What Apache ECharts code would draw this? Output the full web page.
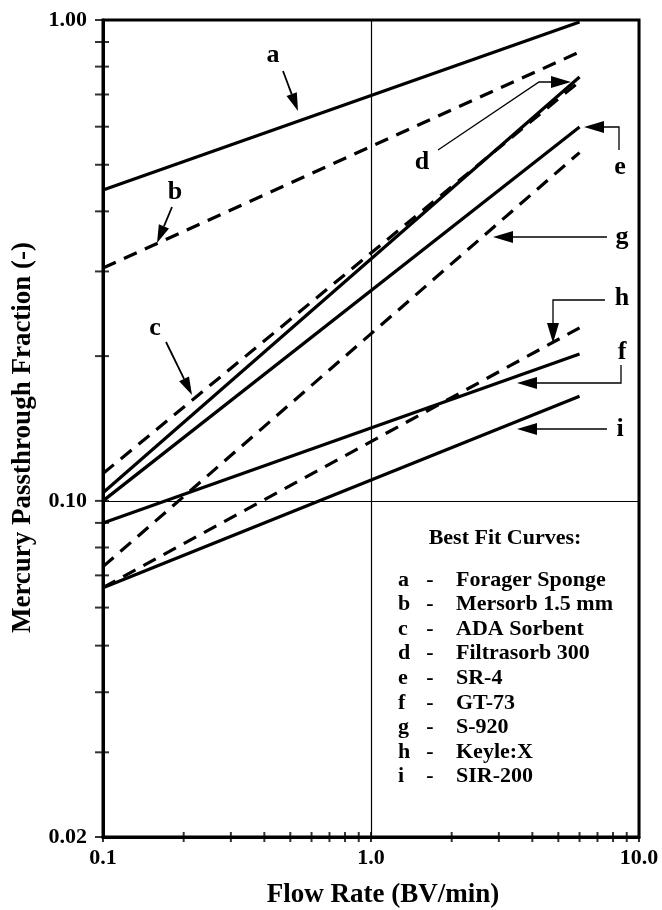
<!DOCTYPE html>
<html>
<head>
<meta charset="utf-8">
<script src="https://cdn.jsdelivr.net/npm/echarts@6/dist/echarts.min.js"></script>
<style>
  html, body { margin: 0; padding: 0; background: #fff; }
  #chart { width: 662px; height: 910px; }
</style>
</head>
<body>
<div id="chart"></div>
<script>
// best fit curves, passthrough fraction at the two ends of the fitted range
const flowRate = [0.1, 6.0];
const curveA = [0.443, 0.990];
const curveB = [0.305, 0.858];
const curveC = [0.114, 0.745];
const curveD = [0.104, 0.761];
const curveE = [0.100, 0.599];
const curveF = [0.090, 0.202];
const curveG = [0.073, 0.530];
const curveH = [0.066, 0.229];
const curveI = [0.066, 0.165];

const curveKeys = ['a', 'b', 'c', 'd', 'e', 'f', 'g', 'h', 'i'];
const curveNames = ['Forager Sponge', 'Mersorb 1.5 mm', 'ADA Sorbent', 'Filtrasorb 300',
  'SR-4', 'GT-73', 'S-920', 'Keyle:X', 'SIR-200'];
const dashedKeys = ['b', 'c', 'g', 'h'];

const xLabelValues = [0.1, 1, 10];
const yLabelValues = [0.02, 0.1, 1];
const xTickValues = [0.1, 0.2, 0.3, 0.4, 0.5, 0.6, 0.7, 0.8, 0.9, 1, 2, 3, 4, 5, 6, 7, 8, 9, 10];
const yTickValues = [0.02, 0.03, 0.04, 0.05, 0.06, 0.07, 0.08, 0.09, 0.1,
  0.2, 0.3, 0.4, 0.5, 0.6, 0.7, 0.8, 0.9, 1];

const curves = [curveA, curveB, curveC, curveD, curveE, curveF, curveG, curveH, curveI];
const FONT = "'Liberation Serif', 'Times New Roman', serif";

const chart = echarts.init(document.getElementById('chart'));

const lineSeries = curveKeys.map((k, i) => ({
  name: k,
  type: 'line',
  data: flowRate.map((x, j) => [x, curves[i][j]]),
  symbol: 'none',
  silent: true,
  lineStyle: {
    color: '#000',
    width: 3.2,
    type: dashedKeys.includes(k) ? [14, 9] : 'solid',
    cap: 'butt'
  },
  z: dashedKeys.includes(k) ? 2 : 3
}));

const tickSeries = [
  {
    type: 'scatter',
    data: xTickValues.map(v => [v, yLabelValues[0]]),
    symbol: 'rect',
    symbolSize: [2, 10],
    itemStyle: { color: '#000' },
    clip: false,
    silent: true
  },
  {
    type: 'scatter',
    data: yTickValues.map(v => [xLabelValues[0], v]),
    symbol: 'rect',
    symbolSize: [14, 2],
    symbolOffset: [-1, 0],
    itemStyle: { color: '#000' },
    clip: false,
    silent: true
  }
];

const option = {
  animation: false,
  grid: {
    left: 103, right: 23, top: 20, bottom: 73,
    outerBoundsMode: 'none',
    containLabel: false,
    show: true, borderColor: '#000', borderWidth: 3
  },
  xAxis: {
    type: 'log',
    min: 0.1, max: 10,
    name: 'Flow Rate (BV/min)',
    nameLocation: 'middle',
    nameGap: 45,
    nameTextStyle: { fontFamily: FONT, fontWeight: 'bold', fontSize: 27, color: '#000', padding: [0, 0, 0, 24] },
    axisLine: { lineStyle: { color: '#000', width: 3 } },
    axisTick: { show: false },
    axisLabel: {
      customValues: xLabelValues,
      formatter: v => Number(v).toFixed(1),
      fontFamily: FONT, fontWeight: 'bold', fontSize: 22, color: '#000', margin: 10
    },
    splitLine: { show: true, lineStyle: { color: '#000', width: 1.2 } }
  },
  yAxis: {
    type: 'log',
    min: 0.02, max: 1,
    name: 'Mercury Passthrough Fraction (-)',
    nameLocation: 'middle',
    nameGap: 66,
    nameTextStyle: { fontFamily: FONT, fontWeight: 'bold', fontSize: 27, color: '#000', padding: [0, 18, 0, 0] },
    axisLine: { lineStyle: { color: '#000', width: 3 } },
    axisTick: { show: false },
    axisLabel: {
      customValues: yLabelValues,
      formatter: v => Number(v).toFixed(2),
      fontFamily: FONT, fontWeight: 'bold', fontSize: 22, color: '#000', margin: 16
    },
    splitLine: { show: true, lineStyle: { color: '#000', width: 1.2 } }
  },
  series: lineSeries.concat(tickSeries)
};
chart.setOption(option);

// annotation arrows and the key box
function arrow(points, width, headLen, headW) {
  const n = points.length;
  const [x1, y1] = points[n - 2];
  const [x2, y2] = points[n - 1];
  const len = Math.hypot(x2 - x1, y2 - y1);
  const ux = (x2 - x1) / len, uy = (y2 - y1) / len;
  const bx = x2 - ux * headLen, by = y2 - uy * headLen;
  const shaft = points.slice(0, n - 1).concat([[bx, by]]);
  return [
    { type: 'polyline', shape: { points: shaft }, style: { stroke: '#000', lineWidth: width, fill: null }, silent: true },
    { type: 'polygon', shape: { points: [[x2, y2], [bx - uy * headW / 2, by + ux * headW / 2], [bx + uy * headW / 2, by - ux * headW / 2]] },
      style: { fill: '#000' }, silent: true }
  ];
}
function label(text, x, y, size, align) {
  return { type: 'text', x: x, y: y, silent: true,
    style: { text: text, fill: '#000', font: 'bold ' + size + 'px ' + FONT, align: align || 'center', verticalAlign: 'middle' } };
}

const g = [];
g.push(label('a', 273, 55, 26));
g.push(...arrow([[283, 71], [298, 111]], 1.8, 18, 11));
g.push(label('b', 175, 192, 26));
g.push(...arrow([[172, 207], [157, 243]], 1.8, 18, 11));
g.push(label('c', 155, 328, 26));
g.push(...arrow([[166, 342], [192, 395]], 1.8, 18, 11));
g.push(label('d', 422, 162, 26));
g.push(...arrow([[438, 150], [539, 82], [571, 82]], 1.3, 20, 12));
g.push(label('e', 620, 167, 26));
g.push(...arrow([[619, 150], [619, 127], [584, 127]], 1.3, 20, 12));
g.push(label('g', 622, 237, 26));
g.push(...arrow([[607, 237], [493, 237]], 1.3, 20, 12));
g.push(label('h', 622, 298, 26));
g.push(...arrow([[605, 300], [553, 300], [553, 343]], 1.3, 20, 12));
g.push(label('f', 622, 352, 26));
g.push(...arrow([[621, 365], [621, 383], [517, 383]], 1.3, 20, 12));
g.push(label('i', 620, 429, 26));
g.push(...arrow([[607, 429], [517, 429]], 1.3, 20, 12));

g.push(label('Best Fit Curves:', 505, 538, 22));
curveKeys.forEach((k, i) => {
  const y = 580 + i * 24.6;
  g.push(label(k, 398, y, 22, 'left'));
  g.push(label('-', 430, y, 22));
  g.push(label(curveNames[i], 456, y, 22, 'left'));
});

chart.setOption({ graphic: g });
</script>
</body>
</html>
